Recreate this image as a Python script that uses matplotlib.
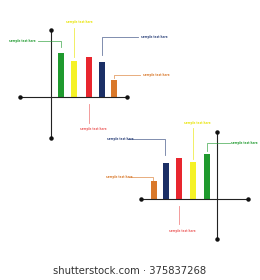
import matplotlib
matplotlib.use("Agg")
import matplotlib.pyplot as plt

# bar data (heights in pixels above the baseline)
top_colors = ["#1f9a2e", "#f5f226", "#e8262e", "#1b2f66", "#d9782a"]
top_values = [44, 36, 40, 35, 17]
top_x = [60.5, 74, 89, 102, 114]

bottom_colors = ["#d9782a", "#1b2f66", "#e8262e", "#f5f226", "#1f9a2e"]
bottom_values = [18, 36, 41, 37, 45]
bottom_x = [154, 166, 179, 193, 207]

label_text = "sample text here"

fig = plt.figure(figsize=(2.6, 2.8), dpi=100)
ax = fig.add_axes([0, 0, 1, 1])
ax.set_xlim(0, 260)
ax.set_ylim(280, 0)
ax.axis("off")


def draw_axes(x0, x1, yb, xv, y0, y1):
    ax.plot([x0, x1], [yb, yb], color="#222222", lw=0.8)
    ax.plot([xv, xv], [y0, y1], color="#222222", lw=0.8)
    for px, py in [(x0, yb), (x1, yb), (xv, y0), (xv, y1)]:
        ax.plot(px, py, "o", color="#111111", ms=2.2)


def callout(pts, color, tx, ty, ha="left"):
    xs = [p[0] for p in pts]
    ys = [p[1] for p in pts]
    ax.plot(xs, ys, color=color, lw=0.6, alpha=0.7)
    ax.text(tx, ty, label_text, color=color, fontsize=2.0, fontweight="bold",
            ha=ha, va="center")


# top chart
base1 = 97
draw_axes(20, 127, base1, 51, 30, 138)
ax.bar(top_x, [-v for v in top_values], bottom=base1, width=6, color=top_colors)

callout([(38, 41), (61, 41), (61, 47)], top_colors[0], 9, 41)
callout([(74, 28), (74, 57)], "#e8e400", 66, 22)
callout([(138, 37), (102, 37), (102, 55)], "#2c427a", 141, 37)
callout([(140, 75), (114, 75), (114, 78)], top_colors[4], 143, 75)
callout([(89, 104), (89, 123)], "#ec5a5a", 80, 129)

# bottom chart
base2 = 199
draw_axes(141, 248, base2, 217, 132, 239)
ax.bar(bottom_x, [-v for v in bottom_values], bottom=base2, width=6,
       color=bottom_colors)

callout([(128, 139), (165, 139), (165, 155)], "#2c427a", 107, 139)
callout([(129, 177), (153, 177), (153, 180)], bottom_colors[0], 106, 177)
callout([(193, 128), (193, 159)], "#e8e400", 184, 123)
callout([(230, 143), (207, 143), (207, 151)], bottom_colors[4], 258, 143, "right")
callout([(179, 206), (179, 224)], "#ec5a5a", 169, 231)

ax.text(130, 271, "shutterstock.com \u00b7 375837268", fontsize=7.2,
        color="#333333", ha="center", va="center")

fig.savefig("out.png", dpi=100, facecolor="white")
